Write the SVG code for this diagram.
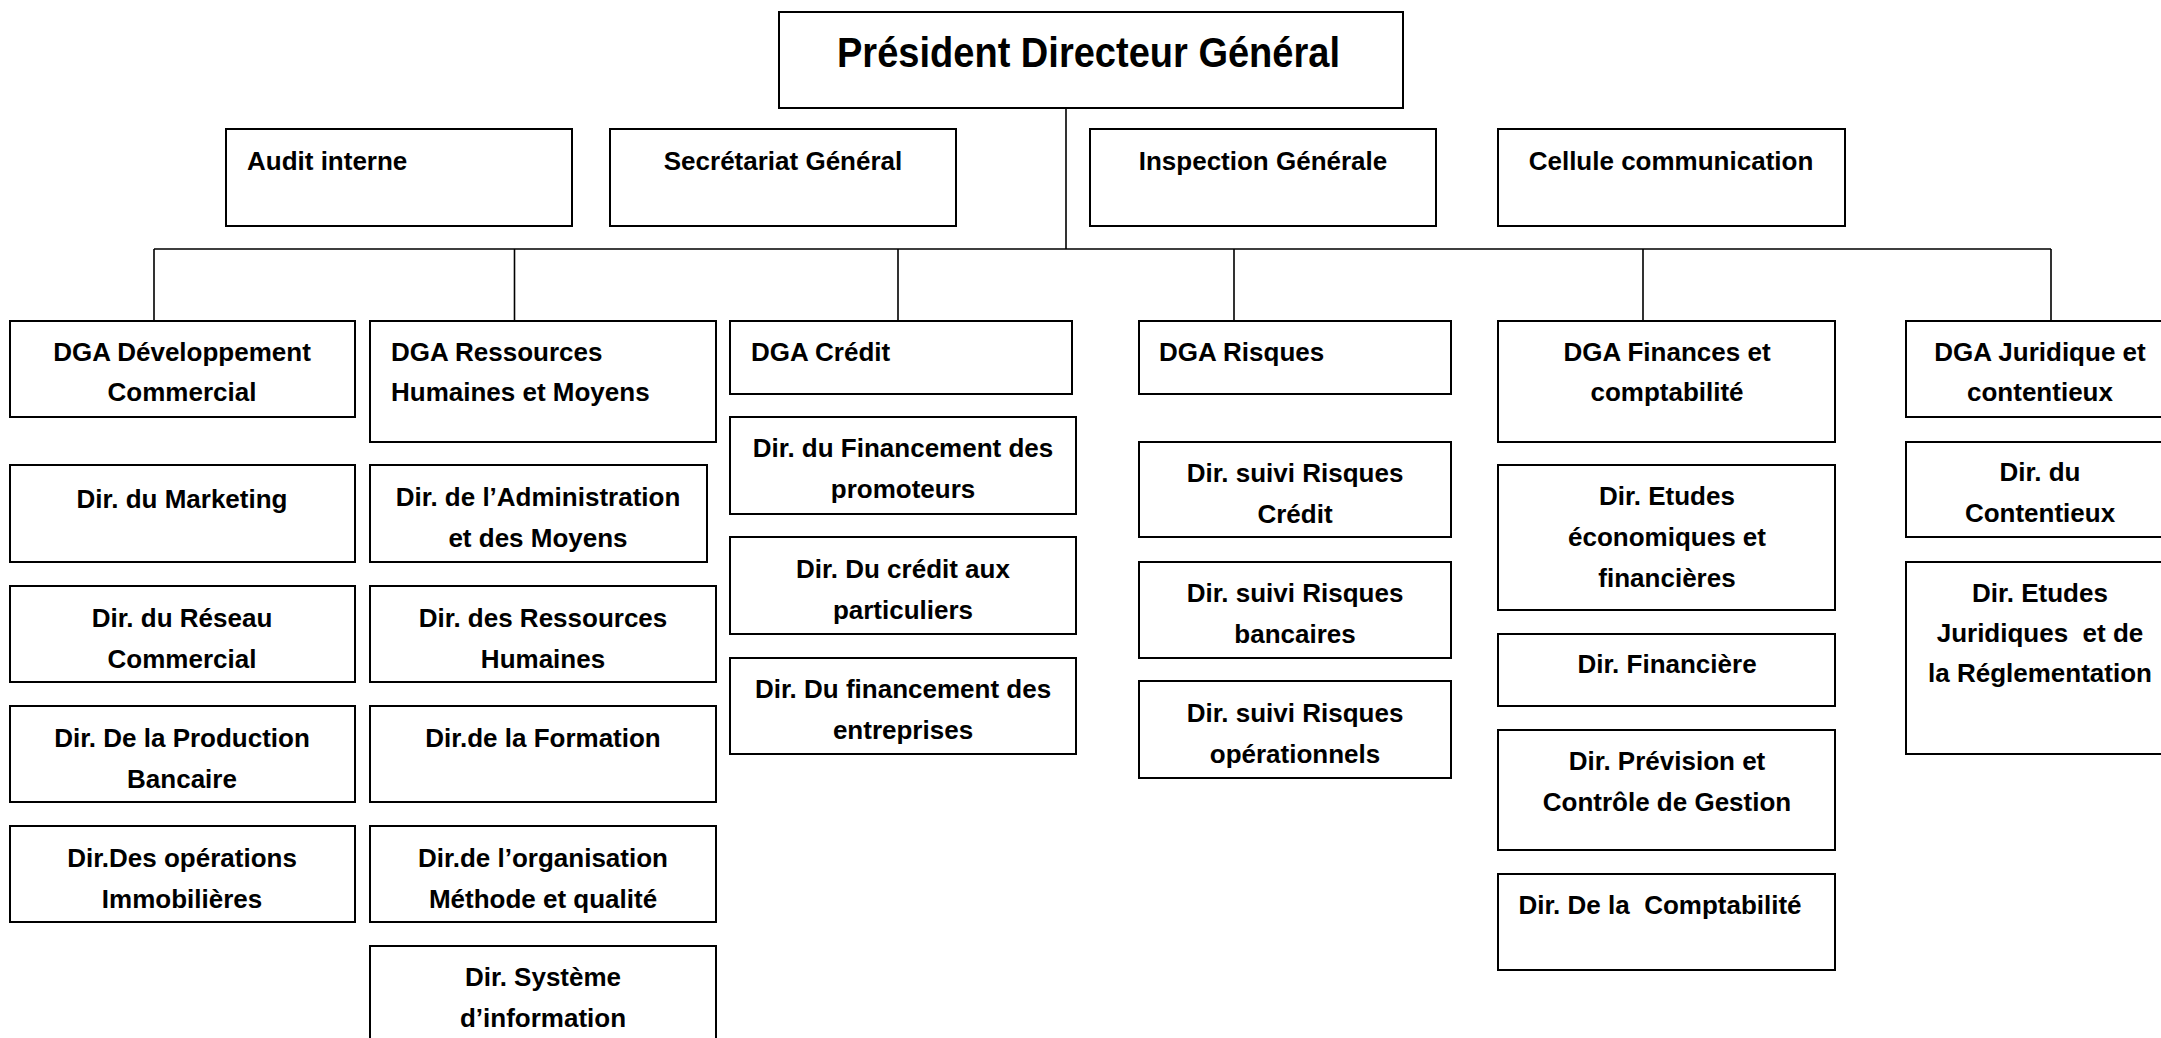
<svg xmlns="http://www.w3.org/2000/svg" width="2161" height="1038" viewBox="0 0 2161 1038">
<style>
.b{fill:#fff;stroke:#000;stroke-width:2}
.t{font-family:"Liberation Sans",Arial,sans-serif;font-weight:bold;font-size:26px;fill:#000}
.c{text-anchor:middle}
.pdg{font-family:"Comic Sans MS","Liberation Sans",Arial,sans-serif;font-weight:bold;font-size:42px;fill:#000}
.k{fill:none;stroke:#000;stroke-width:1.6}
</style>
<rect width="2161" height="1038" fill="#fff"/>
<g id="connectors">
<path class="k" d="M1066,108V249M154,249H2051M154,249V321M514.5,249V321M898,249V321M1234,249V321M1643,249V321M2051,249V321"/>
</g>
<g id="pdg"><rect class="b" x="779" y="12" width="624" height="96"/><text class="pdg" x="837" y="67" textLength="503" lengthAdjust="spacingAndGlyphs">Président Directeur Général</text></g>
<g id="audit"><rect class="b" x="226" y="129" width="346" height="97"/><text class="t" x="247" y="170">Audit interne</text></g>
<g id="secretariat"><rect class="b" x="610" y="129" width="346" height="97"/><text class="t c" x="783" y="170">Secrétariat Général</text></g>
<g id="inspection"><rect class="b" x="1090" y="129" width="346" height="97"/><text class="t c" x="1263" y="170">Inspection Générale</text></g>
<g id="cellule"><rect class="b" x="1498" y="129" width="347" height="97"/><text class="t c" x="1671" y="170">Cellule communication</text></g>

<g id="dga-dev"><rect class="b" x="10" y="321" width="345" height="96"/><text class="t c" x="182" y="361">DGA Développement</text><text class="t c" x="182" y="401">Commercial</text></g>
<g id="dga-rh"><rect class="b" x="370" y="321" width="346" height="121"/><text class="t" x="391" y="361">DGA Ressources</text><text class="t" x="391" y="401">Humaines et Moyens</text></g>
<g id="dga-credit"><rect class="b" x="730" y="321" width="342" height="73"/><text class="t" x="751" y="361">DGA Crédit</text></g>
<g id="dga-risques"><rect class="b" x="1139" y="321" width="312" height="73"/><text class="t" x="1159" y="361">DGA Risques</text></g>
<g id="dga-finances"><rect class="b" x="1498" y="321" width="337" height="121"/><text class="t c" x="1667" y="361">DGA Finances et</text><text class="t c" x="1667" y="401">comptabilité</text></g>
<g id="dga-juridique"><rect class="b" x="1906" y="321" width="268" height="96"/><text class="t c" x="2040" y="361">DGA Juridique et</text><text class="t c" x="2040" y="401">contentieux</text></g>

<g id="dir-marketing"><rect class="b" x="10" y="465" width="345" height="97"/><text class="t c" x="182" y="508">Dir. du Marketing</text></g>
<g id="dir-reseau"><rect class="b" x="10" y="586" width="345" height="96"/><text class="t c" x="182" y="627">Dir. du Réseau</text><text class="t c" x="182" y="668">Commercial</text></g>
<g id="dir-production"><rect class="b" x="10" y="706" width="345" height="96"/><text class="t c" x="182" y="747">Dir. De la Production</text><text class="t c" x="182" y="788">Bancaire</text></g>
<g id="dir-operations"><rect class="b" x="10" y="826" width="345" height="96"/><text class="t c" x="182" y="867">Dir.Des opérations</text><text class="t c" x="182" y="908">Immobilières</text></g>

<g id="dir-admin"><rect class="b" x="370" y="465" width="337" height="97"/><text class="t c" x="538" y="506">Dir. de l’Administration</text><text class="t c" x="538" y="547">et des Moyens</text></g>
<g id="dir-rh"><rect class="b" x="370" y="586" width="346" height="96"/><text class="t c" x="543" y="627">Dir. des Ressources</text><text class="t c" x="543" y="668">Humaines</text></g>
<g id="dir-formation"><rect class="b" x="370" y="706" width="346" height="96"/><text class="t c" x="543" y="747">Dir.de la Formation</text></g>
<g id="dir-organisation"><rect class="b" x="370" y="826" width="346" height="96"/><text class="t c" x="543" y="867">Dir.de l’organisation</text><text class="t c" x="543" y="908">Méthode et qualité</text></g>
<g id="dir-systeme"><rect class="b" x="370" y="946" width="346" height="100"/><text class="t c" x="543" y="986">Dir. Système</text><text class="t c" x="543" y="1027">d’information</text></g>

<g id="dir-promoteurs"><rect class="b" x="730" y="417" width="346" height="97"/><text class="t c" x="903" y="457">Dir. du Financement des</text><text class="t c" x="903" y="498">promoteurs</text></g>
<g id="dir-particuliers"><rect class="b" x="730" y="537" width="346" height="97"/><text class="t c" x="903" y="578">Dir. Du crédit aux</text><text class="t c" x="903" y="619">particuliers</text></g>
<g id="dir-entreprises"><rect class="b" x="730" y="658" width="346" height="96"/><text class="t c" x="903" y="698">Dir. Du financement des</text><text class="t c" x="903" y="739">entreprises</text></g>

<g id="dir-risques-credit"><rect class="b" x="1139" y="442" width="312" height="95"/><text class="t c" x="1295" y="482">Dir. suivi Risques</text><text class="t c" x="1295" y="523">Crédit</text></g>
<g id="dir-risques-bancaires"><rect class="b" x="1139" y="562" width="312" height="96"/><text class="t c" x="1295" y="602">Dir. suivi Risques</text><text class="t c" x="1295" y="643">bancaires</text></g>
<g id="dir-risques-operationnels"><rect class="b" x="1139" y="681" width="312" height="97"/><text class="t c" x="1295" y="722">Dir. suivi Risques</text><text class="t c" x="1295" y="763">opérationnels</text></g>

<g id="dir-etudes-eco"><rect class="b" x="1498" y="465" width="337" height="145"/><text class="t c" x="1667" y="505">Dir. Etudes</text><text class="t c" x="1667" y="546">économiques et</text><text class="t c" x="1667" y="587">financières</text></g>
<g id="dir-financiere"><rect class="b" x="1498" y="634" width="337" height="72"/><text class="t c" x="1667" y="673">Dir. Financière</text></g>
<g id="dir-prevision"><rect class="b" x="1498" y="730" width="337" height="120"/><text class="t c" x="1667" y="770">Dir. Prévision et</text><text class="t c" x="1667" y="811">Contrôle de Gestion</text></g>
<g id="dir-comptabilite"><rect class="b" x="1498" y="874" width="337" height="96"/><text class="t c" x="1660" y="914">Dir. De la&#160; Comptabilité</text></g>

<g id="dir-contentieux"><rect class="b" x="1906" y="442" width="268" height="95"/><text class="t c" x="2040" y="481">Dir. du</text><text class="t c" x="2040" y="522">Contentieux</text></g>
<g id="dir-etudes-juridiques"><rect class="b" x="1906" y="562" width="268" height="192"/><text class="t c" x="2040" y="602">Dir. Etudes</text><text class="t c" x="2040" y="642">Juridiques&#160; et de</text><text class="t c" x="2040" y="682">la Réglementation</text></g>
</svg>
